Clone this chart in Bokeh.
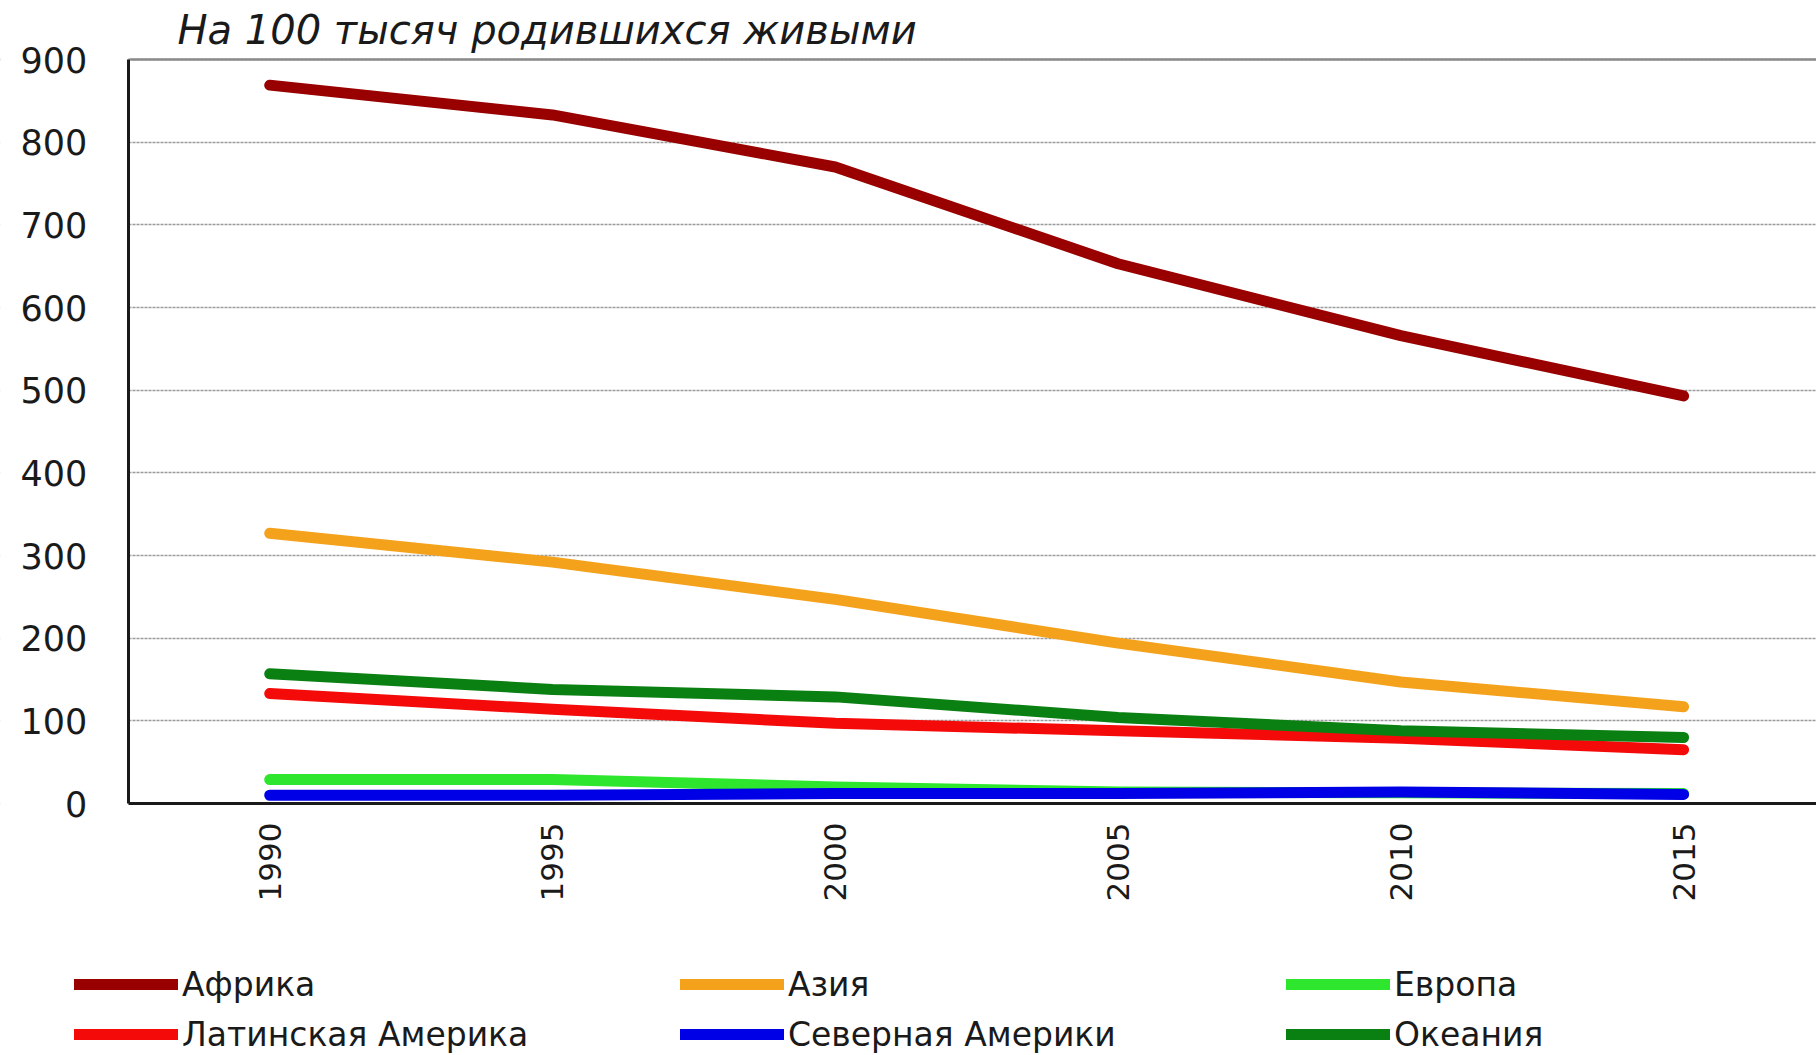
from bokeh.plotting import figure
from bokeh.models import Range1d, Legend, LegendItem, FixedTicker, Span, BoxAnnotation, Label
from bokeh.embed import file_html
from bokeh.resources import INLINE
import math

years = [1990, 1995, 2000, 2005, 2010, 2015]
africa = [869, 833, 770, 653, 566, 493]
asia = [327, 292, 247, 194, 147, 117]
europe = [29, 29, 20, 14, 13, 12]
latin_america = [133, 114, 97, 88, 79, 65]
north_america = [10, 10, 12, 12, 14, 11]
oceania = [157, 138, 129, 104, 88, 80]

series_names = ["Африка", "Азия", "Европа", "Латинская Америка", "Северная Америки", "Океания"]
series_values = [africa, asia, europe, latin_america, north_america, oceania]
series_colors = ["#990000", "#F4A21C", "#2EE62E", "#F50A0A", "#0000E6", "#0B8012"]

y_ticks = [0, 100, 200, 300, 400, 500, 600, 700, 800, 900]
title_text = "На 100 тысяч родившихся живыми"

FONT = "DejaVu Sans"

# the frame covers the whole canvas; axes sit at fixed data positions inside it,
# leaving room for the title above and the legend below
X_LEFT_EDGE = 1987.5   # category axis starts half a category before 1990
X_END = 2017.35
p = figure(width=1816, height=1055, output_backend="svg", toolbar_location=None,
           x_range=Range1d(1985.24, X_END), y_range=Range1d(-304.8, 971.4),
           min_border_left=0, min_border_right=0, min_border_top=0, min_border_bottom=0)

p.outline_line_color = None
p.background_fill_color = "white"
p.border_fill_color = "white"

title = Label(x=177, y=1026, x_units="screen", y_units="screen", text=title_text,
              text_font=FONT, text_font_style="italic", text_font_size="40px",
              text_color="#1a1a1a", text_baseline="middle", text_align="left")
p.add_layout(title)

p.xaxis.fixed_location = 0
p.xaxis.bounds = (X_LEFT_EDGE, X_END)
p.yaxis.fixed_location = X_LEFT_EDGE
p.yaxis.bounds = (0, 900)
p.xaxis.ticker = FixedTicker(ticks=years)
p.yaxis.ticker = FixedTicker(ticks=y_ticks)
for ax in (p.xaxis, p.yaxis):
    ax.axis_line_color = "#1a1a1a"
    ax.axis_line_width = 3
    ax.major_tick_line_color = None
    ax.minor_tick_line_color = None
    ax.major_label_text_font = FONT
    ax.major_label_text_color = "#1a1a1a"
p.yaxis.major_label_text_font_size = "35px"
p.yaxis.major_label_standoff = 35
p.xaxis.major_label_text_font_size = "31px"
p.xaxis.major_label_orientation = math.pi / 2
p.xaxis.major_label_standoff = 13

p.xgrid.grid_line_color = None
p.ygrid.grid_line_color = "#9a9a9a"
p.ygrid.grid_line_width = 1.5
p.ygrid.grid_line_dash = "3 1"

# solid top border line at the maximum of the value axis
top_line = Span(location=900, dimension="width", line_color="#8a8a8a", line_width=2.5,
                level="underlay")
p.add_layout(top_line)

# white mask so the grid and top line start at the value axis
mask = BoxAnnotation(left=1980, right=X_LEFT_EDGE, fill_color="white", fill_alpha=1.0,
                     line_color="white", line_width=4, level="underlay")
p.add_layout(mask)

items = []
for name, vals, col in zip(series_names, series_values, series_colors):
    r = p.line(years, vals, line_color=col, line_width=11, line_cap="round", line_join="round")
    items.append(LegendItem(label=name, renderers=[r]))

legend = Legend(items=items, location=(74, -4), orientation="horizontal", ncols=3,
                glyph_width=104, glyph_height=50, label_height=50, label_width=498,
                label_standoff=4, spacing=0, padding=0, margin=0,
                border_line_color=None, background_fill_alpha=0,
                label_text_font=FONT, label_text_font_size="33px", label_text_color="#1a1a1a")
p.add_layout(legend, "center")

open("out.html", "w").write(file_html(p, INLINE))
